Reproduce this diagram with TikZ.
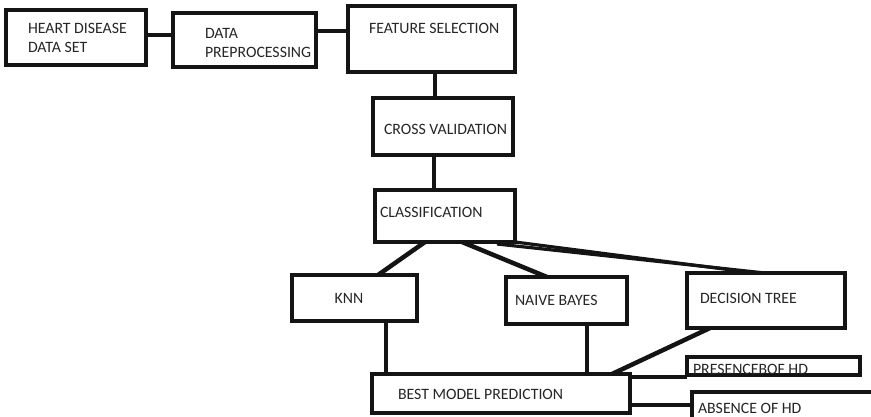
\documentclass[tikz,border=0pt]{standalone}
\usepackage{fontspec}
\setmainfont{Carlito}
\usetikzlibrary{calc}
\definecolor{ink}{HTML}{141414}
\definecolor{txt}{HTML}{262626}
\tikzset{
  stagebox/.style={draw=ink, line width=4.5pt, inner sep=0pt, outer sep=0pt, fill=white},
  link/.style={draw=ink, line width=4.5pt},
  thinlink/.style={draw=ink, line width=3.2pt},
  lbl/.style={inner sep=0pt, outer sep=0pt, text=txt, align=left,
    font=\fontsize{15.8}{19}\selectfont},
}
% \stage{name}{x1}{y1}{x2}{y2}: an empty framed box with the given corners
\newcommand{\stage}[5]{%
  \node[stagebox, minimum width={#4-#2}, minimum height={#5-#3}]
    (#1) at ({(#2+#4)/2},{(#3+#5)/2}) {};}
\begin{document}
\begin{tikzpicture}[x=1pt,y=-1pt]
\useasboundingbox (0,0) rectangle (871,416);
\clip (0,0) rectangle (871,416);
\fill[white] (0,0) rectangle (871,416);

% boxes
\stage{hd}{6}{10}{146}{65}
\stage{pre}{173}{13}{316}{67}
\stage{fs}{348}{6}{515}{72}
\stage{cv}{373}{98}{513}{155}
\stage{cls}{375}{190}{515}{242}
\stage{knn}{292}{275}{417}{321}
\stage{nb}{506}{277}{627}{324}
\stage{dt}{687}{273}{845}{328}
\stage{best}{372}{374}{630}{413}
\stage{pres}{687}{357}{860}{375}
\stage{abs}{692}{392}{910}{440}

% connectors
\draw[link] ($(hd.north east)+(0,25)$) -- ($(pre.north west)+(0,22)$);
\draw[link] ($(pre.north east)+(0,18)$) -- ($(fs.north west)+(0,25)$);
\draw[link] ($(fs.south west)+(87,0)$) -- ($(cv.north west)+(62,0)$);
\draw[link] ($(cv.south west)+(61,0)$) -- ($(cls.north west)+(59,0)$);
\draw[link] ($(cls.south west)+(50,0)$) -- ($(knn.north west)+(86,0)$);
\draw[link] ($(cls.south west)+(87,0)$) -- ($(nb.north west)+(41,0)$);
\draw[thinlink] ($(cls.south east)+(0,0)$) -- ($(dt.north west)+(68,0)$);
\draw[thinlink] ($(cls.south east)+(-18,2)$) -- ($(dt.north west)+(78,0)$);
\draw[link] ($(knn.south west)+(94,0)$) -- ($(best.north west)+(14,0)$);
\draw[link] ($(nb.south west)+(81,0)$) -- ($(best.north west)+(215,0)$);
\draw[link] ($(dt.south west)+(23,0)$) -- ($(best.north west)+(240,0)$);
\draw[link] ($(best.north east)+(0,3)$) -- ($(pres.south west)+(0,2)$);
\draw[link] ($(best.south east)+(0,-8)$) -- ($(abs.north west)+(0,13)$);

% labels
\node[lbl, anchor=west] (thd) at (28,37.5) {HEART DISEASE\\DATA SET};
\node[lbl, anchor=west] (tpre) at (205,43) {DATA\\PREPROCESSING};
\node[lbl, anchor=west] (tfs) at (369,28) {FEATURE SELECTION};
\node[lbl, anchor=west] (tcv) at (384,129) {CROSS VALIDATION};
\node[lbl, anchor=west] (tcls) at (380,212) {CLASSIFICATION};
\node[lbl, anchor=center] (tknn) at (349,298) {KNN};
\node[lbl, anchor=west] (tnb) at (515,300) {NAIVE BAYES};
\node[lbl, anchor=west] (tdt) at (700,298) {DECISION TREE};
\node[lbl, anchor=west] (tbest) at (398,394) {BEST MODEL PREDICTION};
\node[lbl, anchor=west] (tpres) at (693,369) {PRESENCEBOF HD};
\node[lbl, anchor=west] (tabs) at (698,408) {ABSENCE OF HD};
\end{tikzpicture}
\end{document}
